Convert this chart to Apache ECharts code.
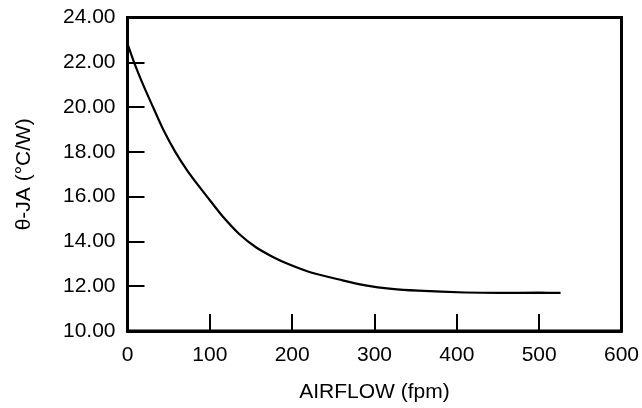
<!DOCTYPE html>
<html>
<head>
<meta charset="utf-8">
<script src="https://cdn.jsdelivr.net/npm/echarts@6/dist/echarts.min.js"></script>
<style>
html,body{margin:0;padding:0;background:#fff;}
#chart{width:642px;height:408px;}
</style>
</head>
<body>
<div id="chart"></div>
<script>
var airflow = [0, 8, 18, 31, 44, 58, 72, 86, 100, 116, 136, 156, 176, 196, 224, 257, 289, 321, 353, 410, 450, 500, 526];
var thetaJA = [22.82, 22.0, 21.08, 20.0, 18.95, 18.0, 17.2, 16.5, 15.84, 15.1, 14.32, 13.74, 13.32, 12.98, 12.6, 12.3, 12.04, 11.88, 11.8, 11.72, 11.7, 11.71, 11.7];
var xTitle = 'AIRFLOW (fpm)';
var yTitle = 'θ-JA (°C/W)';

var pts = airflow.map(function(x, i){ return [x, thetaJA[i]]; });
var font = 'Liberation Sans, Arial, sans-serif';
var chart = echarts.init(document.getElementById('chart'), null, {renderer:'canvas'});
chart.setOption({
  animation: false,
  backgroundColor: '#fff',
  grid: {left: 127.5, right: 17.5, top: 17.5, bottom: 76.5, show: true, borderColor: '#000', borderWidth: 3, backgroundColor: 'transparent'},
  xAxis: {
    type: 'value', min: 0, max: 600, interval: 100,
    name: xTitle, nameLocation: 'middle', nameGap: 51,
    nameTextStyle: {color: '#000', fontSize: 21, fontFamily: font},
    axisLine: {show: true, onZero: false, lineStyle: {color: '#000', width: 3}},
    axisTick: {show: true, inside: true, length: 17, lineStyle: {color: '#000', width: 2}},
    axisLabel: {color: '#000', fontSize: 21, fontFamily: font, margin: 14},
    splitLine: {show: false}
  },
  yAxis: {
    type: 'value', min: 10, max: 24, interval: 2,
    name: yTitle, nameLocation: 'middle', nameGap: 93, nameRotate: 90,
    nameTextStyle: {color: '#000', fontSize: 21, fontFamily: font},
    axisLine: {show: true, onZero: false, lineStyle: {color: '#000', width: 3}},
    axisTick: {show: true, inside: true, length: 17, lineStyle: {color: '#000', width: 2}},
    axisLabel: {color: '#000', fontSize: 21, fontFamily: font, margin: 12,
      formatter: function(v){ return v.toFixed(2); }},
    splitLine: {show: false}
  },
  series: [{
    type: 'line', data: pts, smooth: 0.3, showSymbol: false,
    lineStyle: {color: '#000', width: 2.2}
  }]
});
</script>
</body>
</html>
